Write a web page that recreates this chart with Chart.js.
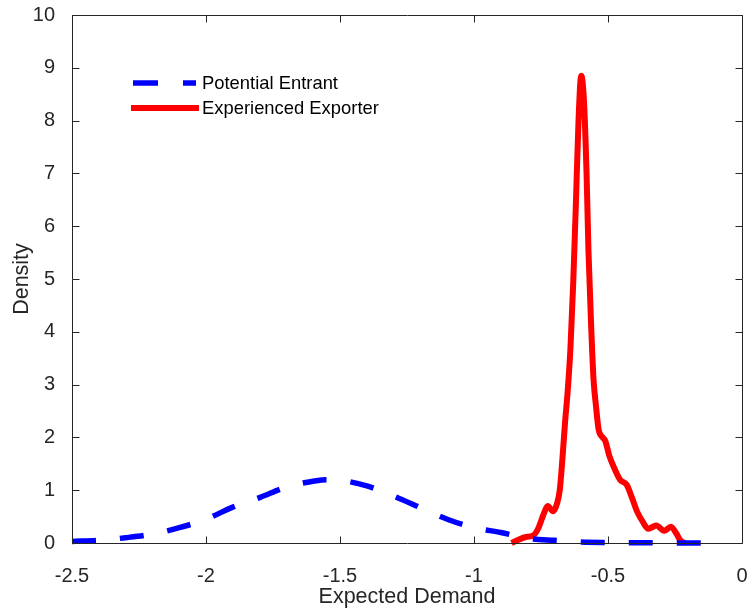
<!DOCTYPE html>
<html>
<head>
<meta charset="utf-8">
<script src="https://cdn.jsdelivr.net/npm/chart.js@4"></script>
<style>
  body { margin: 0; background: #fff; }
  canvas { display: block; }
</style>
</head>
<body>
<canvas id="myChart" width="749" height="612"></canvas>
<script>
// potential entrant density (dashed blue)
const entrantX = [-2.5, -2.4, -2.3, -2.2, -2.1, -2.0, -1.9, -1.8, -1.7, -1.6, -1.55, -1.5, -1.4, -1.3, -1.2, -1.1, -1.0, -0.9, -0.8, -0.7, -0.6, -0.5, -0.4, -0.3, -0.2, -0.12];
const entrantY = [0.03, 0.05, 0.1, 0.17, 0.29, 0.45, 0.68, 0.86, 1.06, 1.17, 1.2, 1.19, 1.08, 0.89, 0.67, 0.45, 0.29, 0.2, 0.09, 0.05, 0.02, 0.01, 0.005, 0.002, 0.001, 0];

// experienced exporter density (solid red)
const exporterX = [-0.86, -0.83, -0.81, -0.78, -0.76, -0.74, -0.725, -0.705, -0.69, -0.68, -0.67, -0.66, -0.65, -0.64, -0.63, -0.62, -0.61, -0.6, -0.59, -0.58, -0.573, -0.562, -0.554, -0.545, -0.535, -0.52, -0.51, -0.495, -0.475, -0.455, -0.43, -0.41, -0.39, -0.37, -0.35, -0.335, -0.32, -0.29, -0.265, -0.245, -0.23, -0.215];
const exporterY = [0, 0.07, 0.11, 0.14, 0.28, 0.55, 0.7, 0.6, 0.75, 1.0, 1.6, 2.3, 2.9, 3.7, 4.9, 6.4, 8.0, 8.85, 8.4, 7.0, 5.55, 4.0, 3.1, 2.6, 2.15, 2.0, 1.93, 1.65, 1.4, 1.2, 1.1, 0.85, 0.58, 0.4, 0.27, 0.3, 0.33, 0.23, 0.31, 0.18, 0.05, 0];

const xTicks = [-2.5, -2, -1.5, -1, -0.5, 0];
const yTicks = [0, 1, 2, 3, 4, 5, 6, 7, 8, 9, 10];
const labels = ['Potential Entrant', 'Experienced Exporter'];

const axisColor = '#262626';
const fontFamily = "'Liberation Sans', Arial, sans-serif";

const toPoints = (xs, ys) => xs.map((x, i) => ({ x: x, y: ys[i] }));

// matlab style box with inward ticks, plus the legend
const boxPlugin = {
  id: 'box',
  afterDraw(chart) {
    const ctx = chart.ctx;
    const a = chart.chartArea;
    const xs = chart.scales.x, ys = chart.scales.y;
    const L = Math.round(a.left) + 0.5, R = Math.round(a.right) + 0.5;
    const T = Math.round(a.top) + 0.5, B = Math.round(a.bottom) + 0.5;
    ctx.save();
    ctx.strokeStyle = axisColor;
    ctx.lineWidth = 1;
    ctx.beginPath();
    ctx.rect(L, T, R - L, B - T);
    xTicks.forEach(v => {
      const px = Math.round(xs.getPixelForValue(v)) + 0.5;
      ctx.moveTo(px, B); ctx.lineTo(px, B - 7);
      ctx.moveTo(px, T); ctx.lineTo(px, T + 7);
    });
    yTicks.forEach(v => {
      const py = Math.round(ys.getPixelForValue(v)) + 0.5;
      ctx.moveTo(L, py); ctx.lineTo(L + 7, py);
      ctx.moveTo(R, py); ctx.lineTo(R - 7, py);
    });
    ctx.stroke();

    // legend
    ctx.lineWidth = 5.5;
    ctx.strokeStyle = '#0000ff';
    ctx.beginPath();
    ctx.moveTo(133, 83); ctx.lineTo(158, 83);
    ctx.moveTo(183, 83); ctx.lineTo(196, 83);
    ctx.stroke();
    ctx.lineWidth = 6;
    ctx.strokeStyle = '#ff0000';
    ctx.beginPath();
    ctx.moveTo(131, 108); ctx.lineTo(199, 108);
    ctx.stroke();
    ctx.fillStyle = '#000';
    ctx.font = '18.4px ' + fontFamily;
    ctx.textBaseline = 'middle';
    ctx.fillText(labels[0], 202, 84);
    ctx.fillText(labels[1], 202, 109);
    ctx.restore();
  }
};

const data = {
  datasets: [{
    label: labels[0],
    data: toPoints(entrantX, entrantY),
    borderColor: '#0000ff',
    borderWidth: 5.5,
    borderDash: [24, 24],
    pointRadius: 0,
    cubicInterpolationMode: 'monotone',
    clip: false,
  }, {
    label: labels[1],
    data: toPoints(exporterX, exporterY),
    borderColor: '#ff0000',
    borderWidth: 6,
    borderJoinStyle: 'round',
    pointRadius: 0,
    cubicInterpolationMode: 'monotone',
    clip: false,
  }]
};

const config = {
  type: 'line',
  data,
  plugins: [boxPlugin],
  options: {
    responsive: false,
    animation: false,
    layout: { padding: { top: 15, right: 7, left: 0, bottom: 0 } },
    plugins: { legend: { display: false }, tooltip: { enabled: false } },
    scales: {
      x: {
        type: 'linear',
        min: -2.5,
        max: 0,
        afterBuildTicks: s => { s.ticks = xTicks.map(v => ({ value: v })); },
        afterFit: s => { s.height = 69; s.paddingLeft = 0; s.paddingRight = 0; },
        grid: { display: false },
        border: { display: false },
        ticks: {
          color: axisColor,
          font: { family: fontFamily, size: 20 },
          padding: 13,
          maxRotation: 0,
          autoSkip: false,
          callback: v => String(v),
        },
        title: {
          display: true,
          text: 'Expected Demand',
          color: axisColor,
          font: { family: fontFamily, size: 21.5 },
          padding: { top: 0, bottom: 2 },
        }
      },
      y: {
        min: 0,
        max: 10,
        afterBuildTicks: s => { s.ticks = yTicks.map(v => ({ value: v })); },
        afterFit: s => { s.width = 72; s.paddingTop = 0; s.paddingBottom = 0; },
        grid: { display: false },
        border: { display: false },
        ticks: {
          color: axisColor,
          font: { family: fontFamily, size: 20 },
          padding: 9,
          autoSkip: false,
        },
        title: {
          display: true,
          text: 'Density',
          color: axisColor,
          font: { family: fontFamily, size: 21.5 },
          padding: { top: 9, bottom: 0 },
        }
      }
    }
  }
};

const myChart = new Chart(document.getElementById('myChart'), config);
</script>
</body>
</html>
